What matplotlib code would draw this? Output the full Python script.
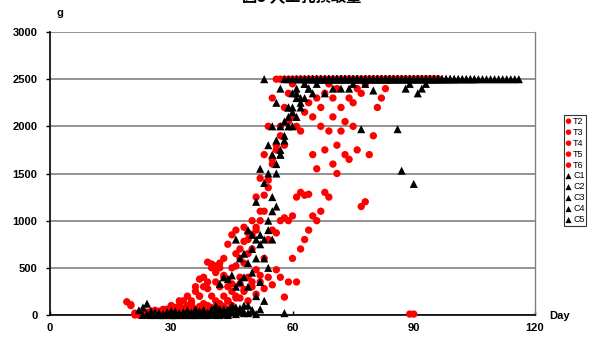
import matplotlib
matplotlib.use("Agg")
import matplotlib.pyplot as plt
import numpy as np

# ---------------- data (day of first value, daily values in g) ----------------
x_ticks = [0, 30, 60, 90, 120]
y_ticks = [0, 500, 1000, 1500, 2000, 2500, 3000]

t2_start = 19
t2_vals = [140, 110, 20, 0, 10, 30, 0, 20, 40, 10,
           60, 30, 80, 50, 150, 100, 120, 250, 380, 300,
           560, 540, 520, 500, 600, 750, 850, 900, 700, 930,
           870, 1000, 1250, 1450, 1700, 2000, 2300,
           2500, 2500, 2500, 2500, 2500, 2500, 2500, 2500, 2500, 2500,
           2500, 2500, 2500, 2500, 2500, 2500, 2500, 2500, 2500, 2500,
           2500, 2500, 2500, 2500, 2500, 2500, 2500, 2500, 2500, 2500,
           2500, 2500, 2500, 2500, 2500, 2500, 2500, 2500, 2500, 2500,
           2500]

t3_start = 22
t3_vals = [0, 30, 0, 10, 50, 20, 0, 40, 10, 60,
           100, 50, 80, 150, 60, 200, 120, 280, 200, 350,
           300, 420, 380, 330, 520, 600, 780, 650, 850, 930,
           1100, 1270, 1430, 1650, 1800, 2000, 2200, 2350, 2450,
           2500, 2500, 2500, 2500, 2500, 2500, 2500, 2500, 2500, 2500,
           2500, 2500, 2500, 2500, 2500, 2500, 2500, 2500, 2500, 2500,
           2500, 2500, 2500, 2500, 2500, 2500, 2500, 2500, 2500, 2500,
           2500, 2500, 2500, 2500, 2500, 2500]

t4_start = 25
t4_vals = [0, 10, 0, 30, 0, 20, 10, 40, 0, 60,
           20, 30, 90, 50, 100, 60, 150, 80, 200, 150,
           250, 180, 330, 270, 400, 350, 480, 420, 600, 800,
           900, 870, 1000, 1030, 1000, 1050, 1250, 1300, 1270, 1280,
           1700, 1550, 2000, 1750, 1950, 2100, 1800, 2200, 2050, 2300,
           2250, 2400, 2350, 2450,
           2500, 2500, 2500, 2500, 2500, 2500, 2500, 2500, 2500, 2500,
           2500, 2500, 2500, 2500, 2500, 2500, 2500, 2500]

t5_start = 28
t5_vals = [0, 10, 0, 20, 0, 30, 10, 40, 0, 20,
           60, 30, 80, 50, 120, 90, 150, 100, 200, 180,
           250, 150, 300, 220, 350, 280, 400, 320, 480, 400,
           190, 350, 600, 350, 700, 800, 900, 1050, 1000, 1100,
           1300, 1250, 1600, 1500, 1950, 1700, 1650, 2000, 1750, 1150,
           1200, 1700, 1900, 2200, 2300, 2400,
           2500, 2500, 2500, 2500, 2500, 2500, 2500, 2500, 2500, 2500,
           2500, 2500, 2500]

t6_start = 20
t6_vals = [100, 0, 20, 0, 10, 40, 0, 30, 60, 20,
           100, 40, 150, 70, 200, 100, 300, 200, 400, 350,
           500, 450, 550, 400, 300, 500, 650, 400, 550, 800,
           700, 900, 1000, 1100, 1350, 1600, 1750, 1900, 1800, 2050,
           2100, 2000, 1950, 2150, 2250, 2100, 2300, 2200, 2350, 2450,
           2300, 2400,
           2500, 2500, 2500, 2500, 2500, 2500, 2500, 2500, 2500, 2500,
           2500, 2500, 2500, 2500, 2500, 2500, 2500,
           10, 10,
           2500, 2500, 2500, 2500, 2500, 2500]

c1_start = 22
c1_vals = [50, 80, 120, 40, 0, 20, 0, 10, 30, 0,
           20, 10, 40, 0, 30, 10, 50, 20, 60, 100,
           330, 400, 380, 420, 300, 600, 650, 900, 850, 1200,
           1550, 2500, 1800, 2000, 2250, 2400,
           2500, 2500, 2500, 2500, 2500, 2500, 2500, 2500, 2500, 2500,
           2500, 2500, 2500, 2500, 2500, 2500, 2500, 2500, 2500, 2500,
           2500, 2500, 2500, 2500, 2500, 2500, 2500, 2500, 2500, 2500,
           2500, 2500, 2500, 2500, 2500, 2500, 2500, 2500, 2500, 2500,
           2500, 2500, 2500, 2500, 2500, 2500, 2500, 2500, 2500, 2500,
           2500, 2500, 2500, 2500, 2500, 2500, 2500, 2500, 2500]

c2_start = 23
c2_vals = [0, 10, 0, 30, 10, 0, 20, 0, 40, 10,
           0, 30, 20, 0, 40, 10, 0, 30, 20, 50,
           10, 60, 100, 800, 350, 400, 550, 700, 800, 850,
           1400, 1500, 1700, 1850, 2000, 20, 2100, 2200, 2350, 2300,
           2450,
           2500, 2500, 2500, 2500, 2500, 2500, 2400, 2500, 2500, 2500,
           2500, 2450, 2500, 2500, 2500, 2500, 2500, 2500, 2500, 2500,
           2500, 2500, 2500, 2500, 2500, 2500, 2500, 2500, 2500, 2500,
           2500, 2500, 2500, 2500, 2500, 2500, 2500]

c3_start = 25
c3_vals = [0, 20, 0, 10, 30, 0, 10, 0, 20, 50,
           0, 10, 30, 0, 20, 10, 40, 0, 60, 20,
           30, 80, 50, 100, 300, 450, 600, 750, 800, 1000,
           1250, 1600, 1700, 1900, 2000, 2150, 2100, 2250, 2300, 2400,
           2350, 2450,
           2500, 2500, 2500, 2500, 2500, 2500, 2500, 2500, 2500, 2500,
           1970, 2450,
           2500, 2500, 2500, 2500, 2500, 2500, 2500,
           1970, 1530, 2400, 2450, 1390, 2350, 2400, 2450, 2500, 2500]

c4_start = 27
c4_vals = [10, 0, 20, 40, 0, 10, 30, 0, 20, 60,
           0, 30, 10, 50, 0, 20, 40, 10, 80, 30,
           60, 20, 100, 50, 200, 350, 600, 900, 1100, 1500,
           1750, 2050, 2200, 2350, 2400,
           2500, 2500, 2500, 2500, 2500, 2500, 2500, 2500, 2500, 2500,
           2400, 2500, 2500, 2500, 2500, 2500, 2500, 2500, 2380, 2500,
           2500, 2500, 2500, 2500, 2500, 2500, 2500, 2500, 2500, 2500,
           2500, 2500, 2500, 2500, 2500, 2500]

c5_start = 30
c5_vals = [0, 20, 10, 0, 40, 10, 0, 20, 50, 0,
           30, 10, 60, 20, 0, 40, 10, 70, 30, 20,
           50, 10, 60, 150, 500, 800, 1150, 1700, 1850, 2200,
           2000, 2300, 2200, 2450, 2400,
           2500, 2500, 2500, 2350, 2500, 2500, 2500, 2500, 2500, 2400,
           2500, 2500, 2500, 2500, 2500, 2500, 2500, 2500, 2500, 2500,
           2500, 2500, 2500, 2500, 2500, 2500, 2500, 2500, 2500, 2500,
           2500, 2500, 2500, 2500, 2500, 2500, 2500, 2500, 2500, 2500,
           2500]

red_series = [("T2", t2_start, t2_vals), ("T3", t3_start, t3_vals),
              ("T4", t4_start, t4_vals), ("T5", t5_start, t5_vals),
              ("T6", t6_start, t6_vals)]
black_series = [("C1", c1_start, c1_vals), ("C2", c2_start, c2_vals),
                ("C3", c3_start, c3_vals), ("C4", c4_start, c4_vals),
                ("C5", c5_start, c5_vals)]

title = "図5 人工乳摂取量"

# ---------------- figure ----------------
W, H = 590, 338
fig = plt.figure(figsize=(W / 100, H / 100), dpi=100)
ax = fig.add_axes([50 / W, 23 / H, 485 / W, 283 / H])

for name, start, vals in red_series:
    days = np.arange(start, start + len(vals))
    ax.scatter(days, vals, s=28, marker='o', color='#ff0000',
               edgecolors='none', clip_on=False, zorder=3, label=name)
for name, start, vals in black_series:
    days = np.arange(start, start + len(vals))
    ax.scatter(days, vals, s=34, marker='^', color='black',
               edgecolors='none', clip_on=False, zorder=4, label=name)

ax.set_xlim(0, 120)
ax.set_ylim(0, 3000)
ax.set_xticks(x_ticks)
ax.set_yticks(y_ticks)
tick_font = dict(family='Liberation Sans', weight='bold', size=8)
ax.set_xticklabels([str(v) for v in x_ticks], **tick_font)
ax.set_yticklabels([str(v) for v in y_ticks], **tick_font)
ax.yaxis.grid(True, color='#808080', lw=1.2, zorder=1)
ax.set_axisbelow(True)
ax.tick_params(axis='y', direction='out', length=3, width=1, pad=6)
ax.tick_params(axis='x', direction='in', length=3, width=1, pad=6)
for s in ['left', 'bottom']:
    ax.spines[s].set_color('black')
    ax.spines[s].set_linewidth(1.2)
ax.spines['top'].set_visible(False)
ax.spines['right'].set_color('#808080')
ax.spines['right'].set_linewidth(1.0)

fig.text(60 / W, 1 - 13 / H, "g", ha='center', va='center', **tick_font)
fig.text(560 / W, 1 - 316 / H, "Day", ha='center', va='center', **tick_font)
fig.text(302 / W, 1 - 4 / H, title, ha='center', va='bottom',
         family=['Noto Sans CJK JP', 'DejaVu Sans'], weight='bold', size=11)

leg = fig.legend(loc='center left', bbox_to_anchor=(564 / W, 1 - 170.5 / H),
                 prop=dict(family='Liberation Sans', size=6.5),
                 handlelength=0.6, handletextpad=0.2, labelspacing=0.22,
                 borderpad=0.2, borderaxespad=0, frameon=True, fancybox=False,
                 markerscale=0.75, scatterpoints=1)
leg.get_frame().set_edgecolor('black')
leg.get_frame().set_linewidth(0.8)

fig.savefig("out.png", dpi=100)
